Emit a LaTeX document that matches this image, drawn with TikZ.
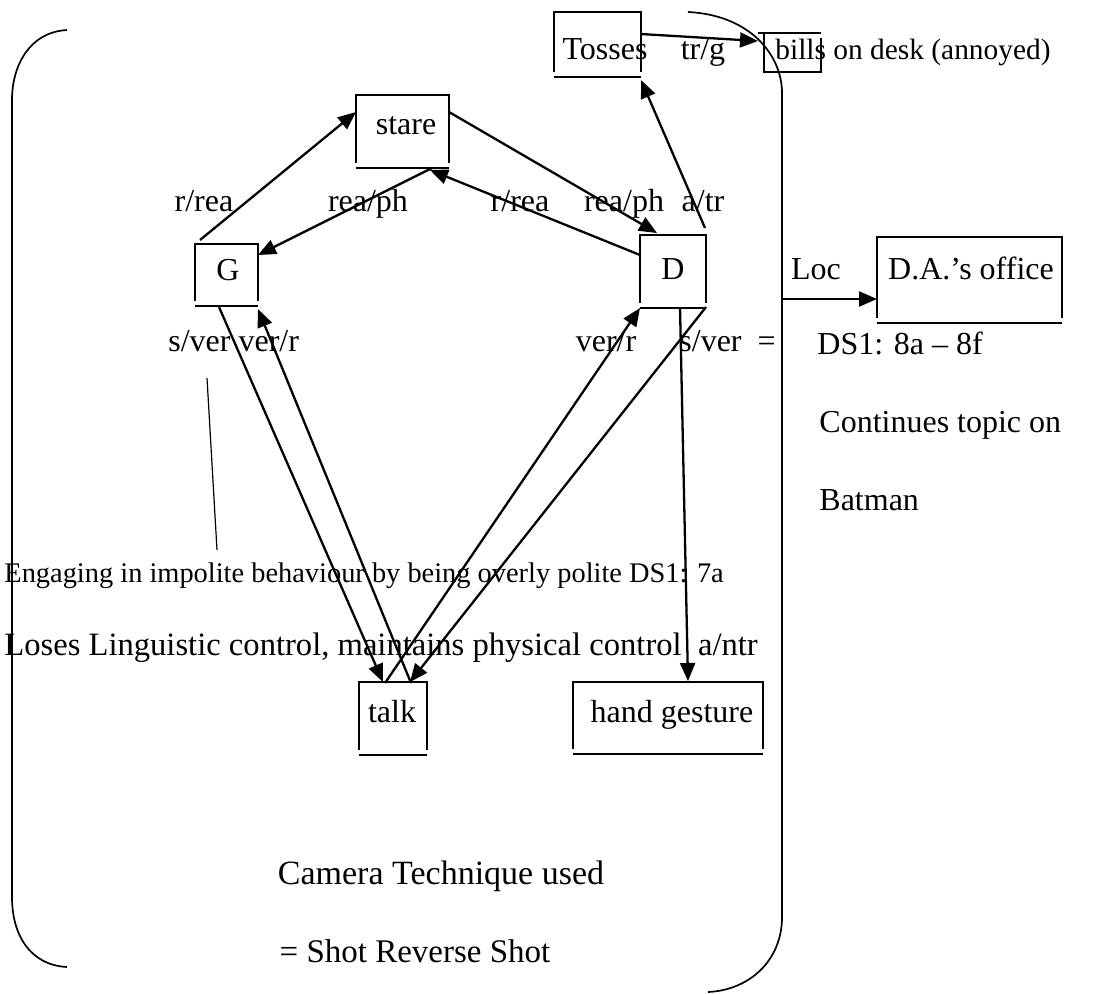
\documentclass[tikz,border=0pt]{standalone}
\usepackage{fontspec}
\setmainfont{Liberation Serif}
\usetikzlibrary{arrows.meta,calc}
\newcommand\wframe[1]{%
  \draw[frameline] (#1.south west) -- (#1.north west) -- (#1.north east) -- (#1.south east);
  \draw[frameline] ([yshift=-2.5pt]#1.south west) -- ([yshift=-2.5pt]#1.south east);}
\begin{document}
\begin{tikzpicture}[x=0.5pt,y=-0.5pt,
  frame/.style={draw=none,inner sep=0pt,outer sep=0pt},
  frameline/.style={line width=0.85pt},
  lbl/.style={inner sep=0pt,text height=0.68em,text depth=0.22em,font=\fontsize{16}{19}\selectfont},
  conn/.style={line width=1.15pt,-{Triangle[length=9pt,width=7.5pt]}},
  plain/.style={line width=0.6pt},
  bracket/.style={line width=0.85pt}]
\useasboundingbox (0,0) rectangle (1107,993);
% brackets
\draw[bracket] (67,30) .. controls (30,32) and (12,65) .. (12,100) -- (12,897) .. controls (12,935) and (30,965) .. (67,967);
\draw[bracket] (688,12) .. controls (750,15) and (782,55) .. (782,93) -- (782,917) .. controls (782,960) and (750,990) .. (708,992);
% boxes
\node[frame,minimum width=43.5pt,minimum height=30pt] (tosses) at (597.5,42) {};
\node[frame,minimum width=28.5pt,minimum height=19.5pt] (bills) at (792.5,52.5) {};
\node[frame,minimum width=46.5pt,minimum height=34pt] (stare) at (402.5,129) {};
\node[frame,minimum width=31.5pt,minimum height=28.5pt] (G) at (226.5,272.5) {};
\node[frame,minimum width=33pt,minimum height=34pt] (D) at (673,269) {};
\node[frame,minimum width=92.5pt,minimum height=40.5pt] (DA) at (969.5,277.5) {};
\node[frame,minimum width=34pt,minimum height=34pt] (talk) at (393,716) {};
\node[frame,minimum width=95pt,minimum height=33.5pt] (hand) at (668,715.5) {};
\wframe{tosses}
\wframe{stare}
\wframe{G}
\wframe{D}
\wframe{DA}
\wframe{talk}
\wframe{hand}
\draw[frameline] ([xshift=-3pt]bills.north west) -- (bills.north east);
\draw[frameline] (bills.north west) -- (bills.south west) -- (bills.south east) -- ([yshift=-2.5pt]bills.north east);
% texts in boxes
\node[lbl] (tossesT) at (605,55) {Tosses};
\node[lbl,anchor=west,font=\fontsize{14.7}{17}\selectfont] (billsT) at (775,55) {bills on desk (annoyed)};
\node[lbl] (stareT) at (406,130) {stare};
\node[lbl] (GT) at (228,276) {G};
\node[lbl] (DT) at (673,275) {D};
\node[lbl] (DAT) at (971,275) {D.A.’s office};
\node[lbl] (talkT) at (392,718) {talk};
\node[lbl] (handT) at (672,718) {hand gesture};
% labels
\node[lbl] (trg) at (703,55) {tr/g};
\node[lbl] (l1) at (204,207) {r/rea};
\node[lbl] (l2) at (368,207) {rea/ph};
\node[lbl] (l3) at (520,207) {r/rea};
\node[lbl] (l4) at (624,207) {rea/ph};
\node[lbl] (l5) at (703,207) {a/tr};
\node[lbl,anchor=west] (l6) at (168,347) {s/ver ver/r};
\node[lbl] (l7) at (606,347) {ver/r};
\node[lbl,anchor=west] (l8) at (679,347) {s/ver\hspace{0.5em}=};
\node[lbl] (loc) at (816,275) {Loc};
\node[lbl,anchor=west] (ds1) at (817,350) {DS1: 8a – 8f};
\node[lbl,anchor=west] (cont) at (819,428) {Continues topic on};
\node[lbl,anchor=west] (bat) at (819,506) {Batman};
\node[lbl,anchor=west,font=\fontsize{14.2}{17}\selectfont] (eng) at (4,578) {Engaging in impolite behaviour by being overly polite DS1: 7a};
\node[lbl,anchor=west,font=\fontsize{16.3}{19}\selectfont] (loses) at (4,651) {Loses Linguistic control, maintains physical control\ \ a/ntr};
\node[lbl,font=\fontsize{17}{20}\selectfont] (cam) at (441,880) {Camera Technique used};
\node[lbl,font=\fontsize{16.5}{20}\selectfont] (srs) at (415,958) {= Shot Reverse Shot};
% free line
\coordinate (f1) at (207,378);
\coordinate (f2) at (217,550);
\draw[plain] (f1) -- (f2);
\coordinate (locstart) at (782,299);
% connectors
\draw[conn] ($(G.north west)+(5,-4)$) -- ($(stare.north west)+(0,17)$);
\draw[conn] ($(stare.south east)+(-17,5)$) -- ($(G.north east)+(0,11)$);
\draw[conn] ($(D.north west)+(0,20)$) -- ($(stare.south east)+(-19,7)$);
\draw[conn] ($(stare.north east)+(0,17)$) -- ($(D.north west)+(17,-2)$);
\draw[conn] ($(D.north east)+(-1,-7)$) -- ($(tosses.south east)+(0,8)$);
\draw[conn] ($(tosses.north east)+(0,22)$) -- ($(bills.north west)+(-6,8)$);
\draw[conn] ($(G.south west)+(24,6)$) -- ($(talk.north west)+(24,0)$);
\draw[conn] ($(talk.north west)+(52,1)$) -- ($(G.south east)+(0,8)$);
\draw[conn] ($(talk.north west)+(26,1)$) -- ($(D.south west)+(0,5)$);
\draw[conn] ($(D.south east)+(0,4)$) -- ($(talk.north west)+(51,0)$);
\draw[conn] ($(D.south west)+(40,4)$) -- ($(hand.north west)+(115,-1)$);
\draw[conn] (locstart) -- ($(DA.south west)+(0,-19)$);
\end{tikzpicture}
\end{document}
